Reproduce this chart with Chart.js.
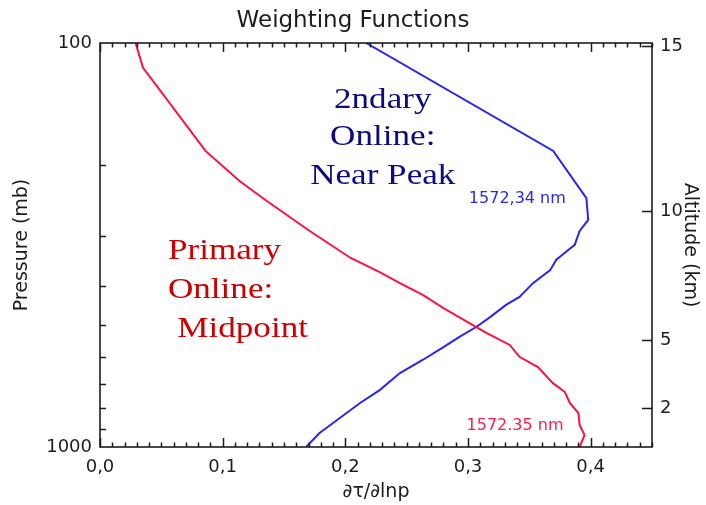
<!DOCTYPE html>
<html>
<head>
<meta charset="utf-8">
<script src="https://cdn.jsdelivr.net/npm/chart.js@4/dist/chart.umd.min.js"></script>
<style>
  html, body { margin: 0; padding: 0; background: #ffffff; }
  #wrap { width: 706px; height: 505px; }
</style>
</head>
<body>
<div id="wrap"><canvas id="chart" width="706" height="505"></canvas></div>
<script>
// Weighting function profiles: pressure level (mb) and d(tau)/d(ln p)
const primaryPressure = [100, 115, 185, 220, 246, 292, 340, 369, 393, 421, 453, 499, 522, 559, 598, 634, 694, 731, 778, 824, 882, 934, 1000];
const primaryValues   = [0.029, 0.035, 0.086, 0.114, 0.136, 0.171, 0.204, 0.228, 0.2445, 0.2635, 0.280, 0.304, 0.315, 0.334, 0.342, 0.357, 0.369, 0.379, 0.383, 0.390, 0.391, 0.395, 0.391];

const secondaryPressure = [100, 185, 242, 274, 292, 316, 325, 344, 365, 393, 425, 445, 477, 504, 534, 566, 609, 656, 723, 778, 872, 923, 1000];
const secondaryValues   = [0.217, 0.3695, 0.3965, 0.398, 0.391, 0.387, 0.382, 0.372, 0.367, 0.353, 0.342, 0.331, 0.318, 0.307, 0.293, 0.280, 0.263, 0.2445, 0.228, 0.212, 0.190, 0.179, 0.168];

// Axis ticks
const xTickValues = [0.0, 0.1, 0.2, 0.3, 0.4];
const pressureTickLabels = [100, 1000];
const pressureMinorTicks = [200, 300, 400, 500, 600, 700, 800, 900];
const altitudeTickLabels = [2, 5, 10, 15];
const altitudeTickPressure = [802, 543, 261, 102];

const X_MAX = 0.45;
const INK = '#1c1c1c';

const toPoints = (pres, vals) => pres.map((p, i) => ({ x: vals[i], y: p }));

// Text written inside the plot, placed in data coordinates (value, pressure)
const notes = [
  { text: '2ndary',    x: 0.2305, p: 144.8, color: '#0c0c80', kind: 'serif', align: 'center' },
  { text: 'Online:',   x: 0.2305, p: 178.8, color: '#0c0c80', kind: 'serif', align: 'center' },
  { text: 'Near Peak', x: 0.2305, p: 223.4, color: '#0c0c80', kind: 'serif', align: 'center' },
  { text: 'Primary',   x: 0.0554, p: 342.5, color: '#cc0000', kind: 'serif', align: 'left' },
  { text: 'Online:',   x: 0.0554, p: 427.6, color: '#cc0000', kind: 'serif', align: 'left' },
  { text: 'Midpoint',  x: 0.0630, p: 534.0, color: '#cc0000', kind: 'serif', align: 'left' },
  { text: '1572,34 nm', x: 0.3007, p: 248.9, color: '#2a2ae0', kind: 'sans', align: 'left' },
  { text: '1572.35 nm', x: 0.2988, p: 908.0, color: '#ff1a4a', kind: 'sans', align: 'left' }
];

const notesPlugin = {
  id: 'notes',
  afterDatasetsDraw(chart) {
    const { ctx, scales } = chart;
    ctx.save();
    notes.forEach(n => {
      const px = scales.x.getPixelForValue(n.x);
      const py = scales.y.getPixelForValue(n.p);
      ctx.fillStyle = n.color;
      ctx.textBaseline = 'alphabetic';
      ctx.textAlign = n.align;
      ctx.save();
      ctx.translate(px, py);
      if (n.kind === 'serif') {
        ctx.font = '30px "Liberation Serif", serif';
        ctx.scale(1.17, 1);
      } else {
        ctx.font = '16px "DejaVu Sans", sans-serif';
      }
      ctx.fillText(n.text, 0, 0);
      ctx.restore();
    });
    ctx.restore();
  }
};

// Plot frame with inward-pointing tick marks on all four sides
const framePlugin = {
  id: 'frame',
  afterDraw(chart) {
    const { ctx, chartArea: a, scales } = chart;
    ctx.save();
    ctx.strokeStyle = INK;
    ctx.lineWidth = 1.5;
    ctx.beginPath();
    // bottom and top: major every 0.1, minor every 0.01
    for (let i = 0; i <= Math.round(X_MAX * 100); i++) {
      const px = Math.round(scales.x.getPixelForValue(i / 100)) + 0.5;
      const len = i % 10 === 0 ? 9 : 4.5;
      ctx.moveTo(px, a.bottom); ctx.lineTo(px, a.bottom - len);
      ctx.moveTo(px, a.top);    ctx.lineTo(px, a.top + len);
    }
    // left: pressure minor ticks
    pressureMinorTicks.forEach(p => {
      const py = Math.round(scales.y.getPixelForValue(p)) + 0.5;
      ctx.moveTo(a.left, py); ctx.lineTo(a.left + 6, py);
    });
    // right: altitude ticks
    altitudeTickPressure.forEach(p => {
      const py = Math.round(scales.alt.getPixelForValue(p)) + 0.5;
      ctx.moveTo(a.right, py); ctx.lineTo(a.right - 10, py);
    });
    ctx.stroke();
    ctx.lineWidth = 1.6;
    ctx.strokeRect(a.left, a.top, a.right - a.left, a.bottom - a.top);
    ctx.restore();
  }
};

const tickFont = { family: '"DejaVu Sans", sans-serif', size: 18 };
const titleFont = { family: '"DejaVu Sans", sans-serif', size: 19 };

new Chart(document.getElementById('chart'), {
  type: 'line',
  data: {
    datasets: [
      {
        label: '1572.35 nm',
        data: toPoints(primaryPressure, primaryValues),
        borderColor: '#ff1040',
        borderWidth: 2,
        pointRadius: 0,
        tension: 0,
        fill: false,
        xAxisID: 'x',
        yAxisID: 'y'
      },
      {
        label: '1572,34 nm',
        data: toPoints(secondaryPressure, secondaryValues),
        borderColor: '#2626f0',
        borderWidth: 2,
        pointRadius: 0,
        tension: 0,
        fill: false,
        xAxisID: 'x',
        yAxisID: 'y'
      }
    ]
  },
  options: {
    responsive: false,
    animation: false,
    events: [],
    layout: { padding: 0 },
    plugins: {
      legend: { display: false },
      tooltip: { enabled: false },
      title: {
        display: true,
        text: 'Weighting Functions',
        color: INK,
        font: { family: '"DejaVu Sans", sans-serif', size: 23, weight: 'normal', lineHeight: 1.2 },
        padding: { top: 7, bottom: 8.4 }
      }
    },
    scales: {
      x: {
        type: 'linear',
        position: 'bottom',
        min: 0,
        max: X_MAX,
        afterBuildTicks: s => { s.ticks = xTickValues.map(v => ({ value: v })); },
        afterFit: s => { s.height = 58; },
        grid: { display: false, drawTicks: false },
        border: { display: false },
        ticks: {
          color: INK,
          font: tickFont,
          padding: 10,
          maxRotation: 0,
          autoSkip: false,
          callback: v => Number(v).toFixed(1).replace('.', ',')
        },
        title: {
          display: true,
          text: '∂τ/∂lnp',
          color: INK,
          font: titleFont,
          padding: { top: 0, bottom: 1.6 }
        }
      },
      y: {
        type: 'logarithmic',
        position: 'left',
        min: 100,
        max: 1000,
        reverse: true,
        afterBuildTicks: s => { s.ticks = pressureTickLabels.map(v => ({ value: v })); },
        afterFit: s => { s.width = 100; },
        grid: { display: false, drawTicks: false },
        border: { display: false },
        ticks: {
          color: INK,
          font: tickFont,
          padding: 8,
          autoSkip: false,
          callback: v => String(v)
        },
        title: {
          display: true,
          text: 'Pressure (mb)',
          color: INK,
          font: titleFont,
          padding: { top: 10.6, bottom: 0 }
        }
      },
      alt: {
        type: 'logarithmic',
        position: 'right',
        min: 100,
        max: 1000,
        reverse: true,
        afterBuildTicks: s => { s.ticks = altitudeTickPressure.map(v => ({ value: v })); },
        afterFit: s => { s.width = 54; },
        grid: { display: false, drawTicks: false },
        border: { display: false },
        ticks: {
          color: INK,
          font: tickFont,
          padding: 8,
          autoSkip: false,
          callback: v => String(altitudeTickLabels[altitudeTickPressure.indexOf(v)])
        },
        title: {
          display: true,
          text: 'Altitude (km)',
          color: INK,
          font: titleFont,
          padding: { top: 4.6, bottom: 0 }
        }
      }
    }
  },
  plugins: [notesPlugin, framePlugin]
});
</script>
</body>
</html>
